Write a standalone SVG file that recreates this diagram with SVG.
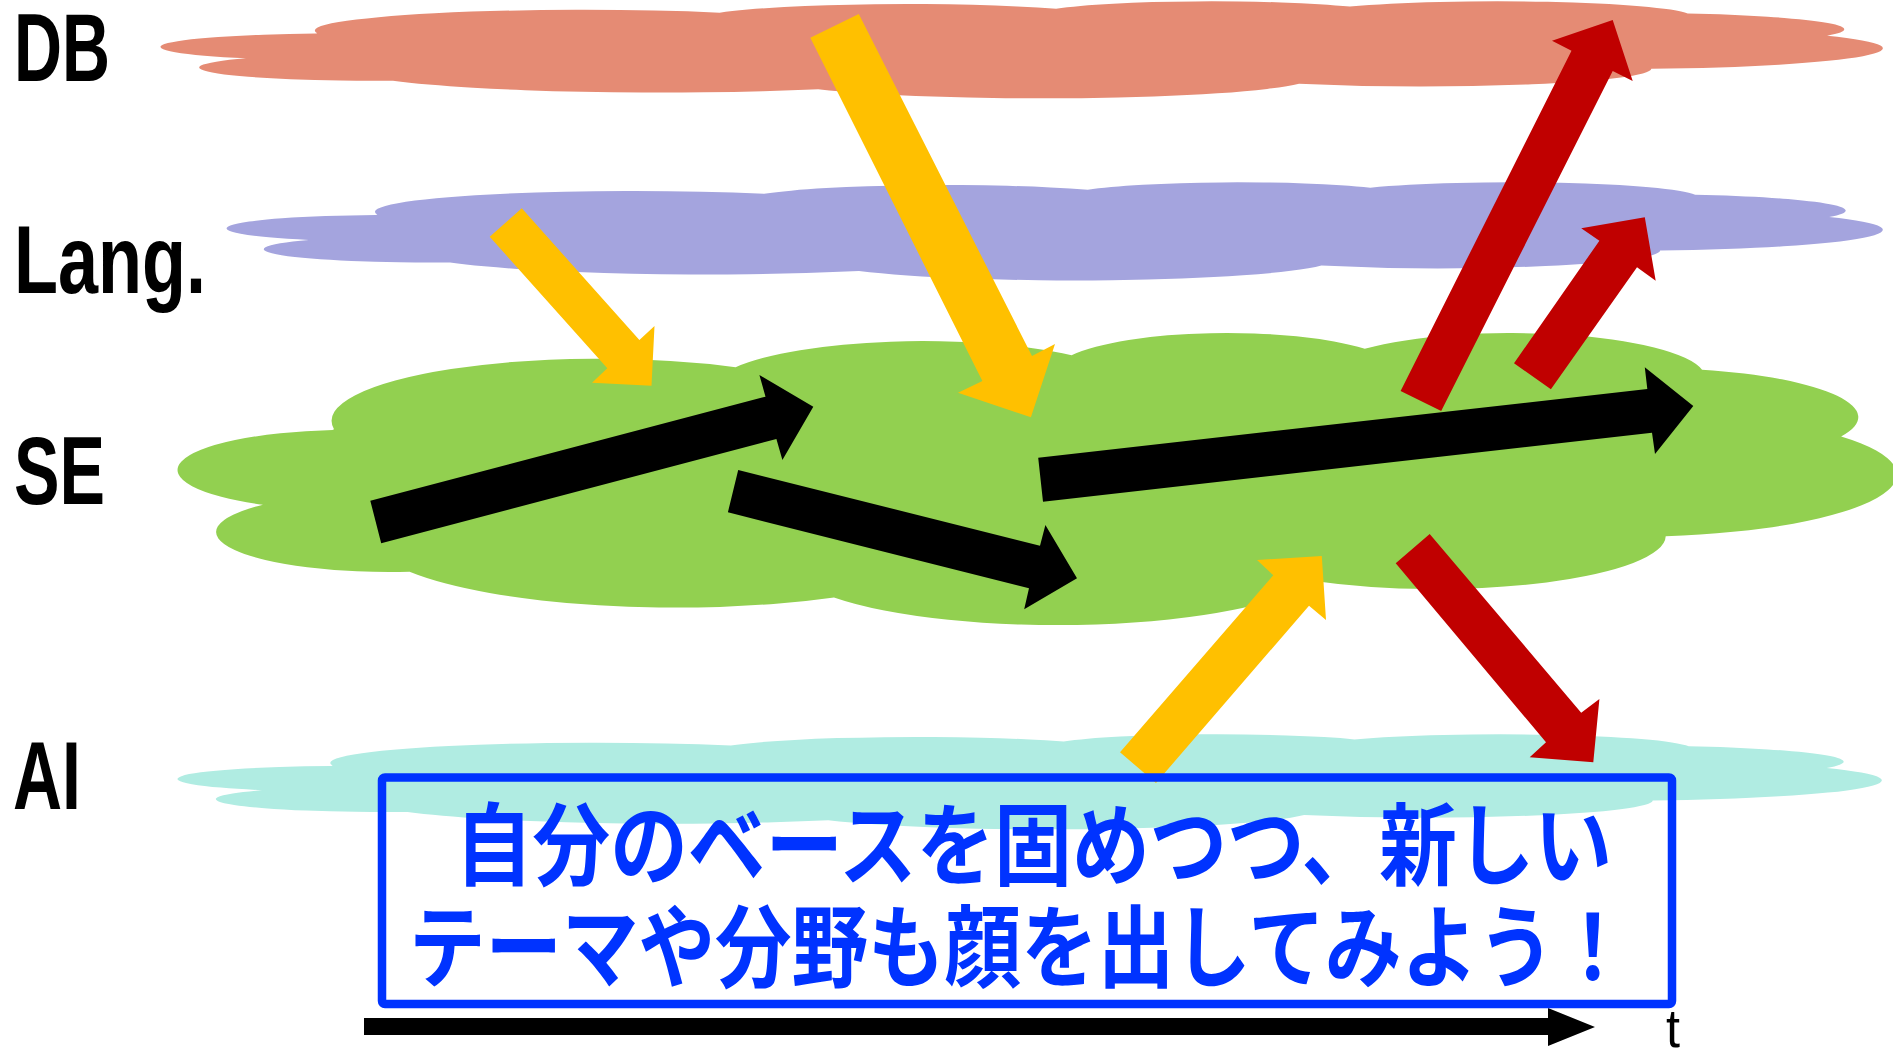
<svg xmlns="http://www.w3.org/2000/svg" width="1893" height="1049" viewBox="0 0 1893 1049">
<style>
.lbl{font-family:"Liberation Sans",Arial,sans-serif;font-weight:bold;font-size:96px;fill:#000}
.jp{font-family:"Noto Sans CJK JP","Noto Sans CJK SC",sans-serif;font-weight:bold;font-size:90px;fill:#0033FF}
.yel{fill:#FFC000}
.red{fill:#C00000}
.blk{fill:#000}
</style>
<defs>
<path id="cloud" d="M3900 14370 A6753 9190 0 0 1 14004.7 5201.9 A5333 7267 0 0 1 22457.2 3434 A4365 5945 0 0 1 29835.3 2486 A4857 6595 0 0 1 38319.5 5582.7 A5333 7273 0 0 1 41820 15466.6 A6775 9220 0 0 1 37406.3 30210.7 A5785 7867 0 0 1 28557.6 36820.6 A6752 9215 0 0 1 16480.1 39267.8 A7720 10543 0 0 1 5801.5 35474.1 A4360 5918 0 0 1 2111.9 25549.8 A4345 5945 0 0 1 3862.2 14506.4 Z"/>
</defs>
<rect width="1893" height="1049" fill="#fff"/>
<g id="db">
<use href="#cloud" fill="#E58B74" transform="translate(162,1) scale(0.039815,0.0022454)"/>
<text class="lbl" x="14" y="81" textLength="96" lengthAdjust="spacingAndGlyphs">DB</text>
</g>
<g id="lang">
<use href="#cloud" fill="#A4A4DE" transform="translate(228,182) scale(0.038287,0.0022685)"/>
<text class="lbl" x="14" y="293" textLength="192" lengthAdjust="spacingAndGlyphs">Lang.</text>
</g>
<g id="se">
<use href="#cloud" fill="#92D050" transform="translate(179,332) scale(0.039745,0.0067593)"/>
<text class="lbl" x="14" y="504" textLength="91" lengthAdjust="spacingAndGlyphs">SE</text>
</g>
<g id="ai">
<use href="#cloud" fill="#B0ECE2" transform="translate(179,734) scale(0.039398,0.0021991)"/>
<text class="lbl" x="13" y="809" textLength="68" lengthAdjust="spacingAndGlyphs">AI</text>
</g>
<g id="connectors">
<polygon class="blk" points="370.3,500.7 765.5,396.7 759.4,375 813.3,406.7 782.4,460 776.4,439 381.2,543.3"/>
<polygon class="blk" points="738.2,470 1040,545.7 1045.4,525 1077,578.3 1024.2,609.3 1029,588.3 727.9,512.3"/>
<polygon class="blk" points="1038.2,457.7 1647.3,389 1644.8,367.3 1693.3,406 1655,454 1652,432.7 1043,501.7"/>
<polygon class="yel" points="521.8,208.3 639.4,340 654.5,326 651.5,385.7 592,382.7 607.3,368.3 489.7,236.7"/>
<polygon class="yel" points="858.8,14 1032,356 1055,344 1030.9,417.3 958,392.7 982.4,381 810.3,37.7"/>
<polygon class="yel" points="1120,752.3 1273.3,575.3 1257,560 1321.8,556 1326,620 1309,605.7 1156,783"/>
<polygon class="red" points="1400.6,391 1571.5,50.7 1552,40.7 1612.7,20 1632.7,81 1612.7,71 1441.2,411"/>
<polygon class="red" points="1514,363.3 1599.4,240.7 1581.2,228.3 1644.8,217.3 1655.7,280.7 1637,267.3 1550.9,389.3"/>
<polygon class="red" points="1429.7,534 1581.2,712.7 1599.4,699 1593.3,762.3 1529.7,757.3 1546,742.3 1395.7,563.3"/>
<polygon class="blk" points="364,1018 1548,1018 1548,1008 1595,1027 1548,1046 1548,1035 364,1035"/>
</g>
<g id="note">
<rect x="382" y="777.5" width="1290" height="226.5" rx="3" fill="none" stroke="#0033FF" stroke-width="8.5"/>
<text class="jp" x="455" y="878" textLength="1157" lengthAdjust="spacingAndGlyphs">自分のベースを固めつつ、新しい</text>
<text class="jp" x="409" y="980" textLength="1222" lengthAdjust="spacingAndGlyphs">テーマや分野も顔を出してみよう！</text>
</g>
<g id="time">
<text x="1666" y="1047" font-family="Liberation Sans,Arial,sans-serif" font-size="54" textLength="14" lengthAdjust="spacingAndGlyphs">t</text>
</g>
</svg>
